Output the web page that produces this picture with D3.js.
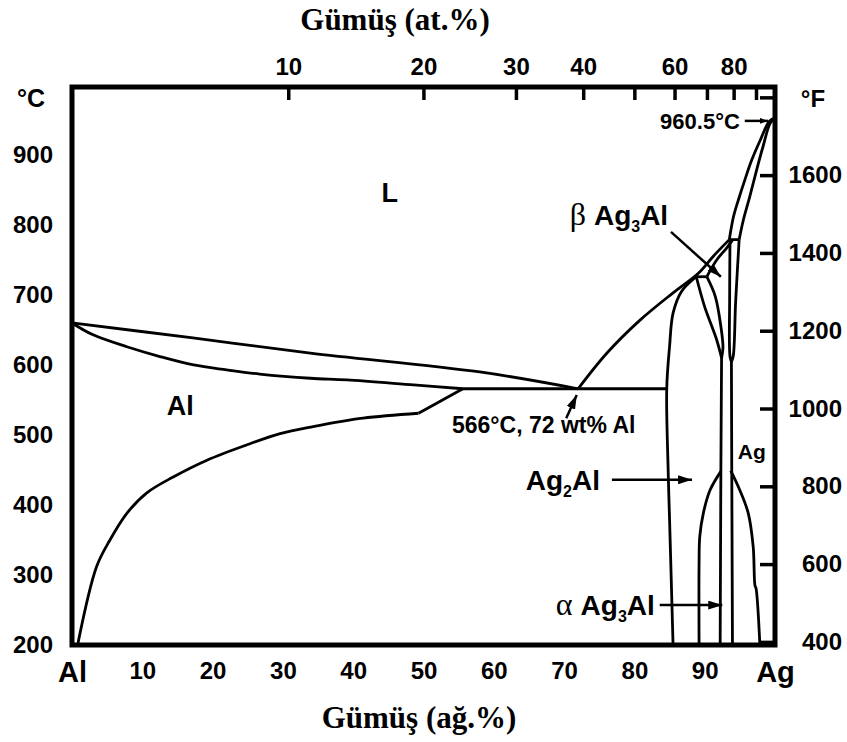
<!DOCTYPE html>
<html><head><meta charset="utf-8">
<script src="https://cdn.jsdelivr.net/npm/d3@7"></script>
<style>
body{margin:0;background:#fff;}
svg{display:block;}
</style></head><body>
<svg id="c" width="847" height="742" font-family="Liberation Sans, Arial, sans-serif" font-weight="bold"></svg>
<script>
// ---------- axis data ----------
const tempTicksC = [200,300,400,500,600,700,800,900];
const wtTicks = [0,10,20,30,40,50,60,70,80,90,100];
const wtTickLabels = ["Al","10","20","30","40","50","60","70","80","90","Ag"];
const atTicks = [10,20,30,40,50,60,70,80,90];
const atTickLabels = ["10","20","30","40","","60","","80",""];
const fTicks = [400,600,800,1000,1200,1400,1600,1800];
const fTickLabels = ["400","600","800","1000","1200","1400","1600",""];

// ---------- phase boundaries [wt% Ag, °C] ----------
const liquidusAl = [[0,660],[17.2,638.6],[33.9,617],[58,590],[72,566]];
const liquidusAgLow = [[72,566],[76.1,617],[80.8,664],[85.5,703],[89.1,731],[91.2,755],[93.5,779]];
const liquidusAgHigh = [[93.5,779],[94.1,812],[94.8,836],[95.7,864],[96.7,893],[97.9,921],[99.2,948],[100,953]];
const solidusAg = [[94.9,779],[95.5,807],[96.4,840],[97.4,879],[98.3,912],[99.3,945],[100,953]];
const solidusAl = [[0,660],[3.0,643],[7.8,626],[12.5,612],[17.3,600],[22,593],[26.7,587],[33.9,581],[39.1,578.6],[48.6,571.4],[55.6,566]];
const solvusAlUpper = [[55.6,566],[49.3,531]];
const solvusAlLower = [[49.3,531],[41.4,524],[34.3,512],[29.6,502],[24.9,486],[19.2,464],[14.4,440],[10.6,417],[7.8,388],[5.4,350],[3.5,312],[0.8,200]];
const eutectic = [[55.6,566],[84.6,566]];
const peritecticHigh = [[93.5,779],[94.9,779]];
const peritecticLow = [[88.8,726],[90.3,726]];
const betaSolidus = [[90.3,726],[91.7,750],[93.2,768],[94.0,779]];
const zetaLeft = [[88.8,726],[86.7,705],[85.5,674],[85.0,626],[84.6,566],[84.8,450],[85.0,380],[85.5,200]];
const vLeft = [[88.8,726],[90.0,683],[91.7,636],[92.4,610]];
const vRight = [[90.3,726],[91.5,698],[92.3,655],[92.6,625],[92.4,610]];
const betaAgWedge = [[93.6,779],[93.55,700],[93.6,612],[93.8,605],[94.05,612],[94.4,690],[94.9,779]];
const lineA = [[92.4,610],[92.3,450],[92.2,200]];
const lineB = [[93.8,605],[93.85,450],[93.95,200]];
const muLeft = [[92.3,448],[90.75,421],[89.8,388],[89.3,355],[89.2,317],[89.2,200]];
const muRight = [[93.7,449],[95.0,421],[96.2,388],[96.9,340],[97.15,285],[97.3,281],[97.85,200]];

const smoothCurves = [liquidusAl, liquidusAgLow, liquidusAgHigh, solidusAg, solidusAl, solvusAlLower, zetaLeft, vLeft, vRight, betaAgWedge, muLeft, muRight, betaSolidus];
const straightCurves = [solvusAlUpper, eutectic, peritecticHigh, peritecticLow, lineA, lineB];

// ---------- scales ----------
const svg = d3.select("#c");
const x = d3.scaleLinear().domain([0,100]).range([72,775]);
const y = d3.scaleLinear().domain([200,997]).range([645,87]);
const cToF = c => c*9/5+32;
const yF = d3.scaleLinear().domain([cToF(200),cToF(997)]).range([645,87]);
const M_AG = 107.87, M_AL = 26.98;
const atToWt = a => 100*a*M_AG/(a*M_AG+(100-a)*M_AL);

// defs
const defs = svg.append("defs");
defs.append("marker").attr("id","ah").attr("viewBox","0 0 10 10").attr("refX",10).attr("refY",5)
  .attr("markerUnits","userSpaceOnUse").attr("markerWidth",14).attr("markerHeight",9)
  .attr("orient","auto").attr("preserveAspectRatio","none")
  .append("path").attr("d","M0,0L10,5L0,10Z").attr("fill","#000");
defs.append("marker").attr("id","ahs").attr("viewBox","0 0 10 10").attr("refX",10).attr("refY",5)
  .attr("markerUnits","userSpaceOnUse").attr("markerWidth",8).attr("markerHeight",6)
  .attr("orient","auto").attr("preserveAspectRatio","none")
  .append("path").attr("d","M0,0L10,5L0,10Z").attr("fill","#000");

// ---------- curves ----------
const lineSmooth = d3.line().x(d=>x(d[0])).y(d=>y(d[1])).curve(d3.curveCatmullRom.alpha(0.5));
const lineStraight = d3.line().x(d=>x(d[0])).y(d=>y(d[1]));
const gCurves = svg.append("g");
smoothCurves.forEach(c => gCurves.append("path").attr("d",lineSmooth(c)).attr("fill","none").attr("stroke","#000").attr("stroke-width",2.8).attr("stroke-linejoin","round"));
straightCurves.forEach(c => gCurves.append("path").attr("d",lineStraight(c)).attr("fill","none").attr("stroke","#000").attr("stroke-width",2.8));

// ---------- frame ----------
svg.append("rect").attr("x",x(0)).attr("y",y(997)).attr("width",x(100)-x(0)).attr("height",y(200)-y(997))
  .attr("fill","none").attr("stroke","#000").attr("stroke-width",5);

// ---------- axes ----------
function styleAxisText(sel){ sel.attr("font-size",24).attr("font-family","Liberation Sans, Arial, sans-serif").attr("font-weight","bold").attr("fill","#000"); }
const axLeft = svg.append("g").attr("transform",`translate(${x(0)},0)`)
  .call(d3.axisLeft(y).tickValues(tempTicksC).tickSize(0).tickPadding(19));
axLeft.select(".domain").remove();
styleAxisText(axLeft.selectAll("text"));

const axBottom = svg.append("g").attr("transform",`translate(0,${y(200)})`)
  .call(d3.axisBottom(x).tickValues(wtTicks).tickSize(0).tickPadding(17).tickFormat((d,i)=>wtTickLabels[i]));
axBottom.select(".domain").remove();
styleAxisText(axBottom.selectAll("text"));
axBottom.selectAll("text").filter((d)=>d===0||d===100).attr("font-size",29).attr("y",16);

const axTop = svg.append("g").attr("transform",`translate(0,${y(997)})`)
  .call(d3.axisTop(x).tickValues(atTicks.map(atToWt)).tickSize(-13).tickPadding(12).tickFormat((d,i)=>atTickLabels[i]));
axTop.select(".domain").remove();
axTop.selectAll("line").attr("stroke","#000").attr("stroke-width",3.5);
styleAxisText(axTop.selectAll("text"));

const axRight = svg.append("g").attr("transform",`translate(${x(100)},0)`)
  .call(d3.axisRight(yF).tickValues(fTicks).tickSize(-15).tickPadding(10).tickFormat((d,i)=>fTickLabels[i]));
axRight.select(".domain").remove();
axRight.selectAll("line").attr("stroke","#000").attr("stroke-width",3.5);
styleAxisText(axRight.selectAll("text"));
axRight.selectAll("text").attr("text-anchor","end").attr("x",67);

// unit labels
svg.append("text").attr("x",31).attr("y",107).attr("text-anchor","middle").attr("font-size",25).text("°C");
svg.append("text").attr("x",813).attr("y",107).attr("text-anchor","middle").attr("font-size",24).text("°F");

// titles
svg.append("text").attr("x",395).attr("y",30).attr("text-anchor","middle")
  .attr("font-family","Liberation Serif, Times New Roman, serif").attr("font-size",31).text("Gümüş (at.%)");
svg.append("text").attr("x",419).attr("y",728).attr("text-anchor","middle")
  .attr("font-family","Liberation Serif, Times New Roman, serif").attr("font-size",31).text("Gümüş (ağ.%)");

// ---------- annotations ----------
const base = (T,fs)=> y(T)+0.36*fs;
svg.append("text").attr("x",x(45.2)).attr("y",base(846,27)).attr("text-anchor","middle").attr("font-size",27).text("L");
svg.append("text").attr("x",x(15.4)).attr("y",base(543,27)).attr("text-anchor","middle").attr("font-size",27).text("Al");
svg.append("text").attr("x",x(96.7)).attr("y",base(476,21)).attr("text-anchor","middle").attr("font-size",21).text("Ag");

function arrow(a,b,mk){
  svg.append("line").attr("x1",x(a[0])).attr("y1",y(a[1])).attr("x2",x(b[0])).attr("y2",y(b[1]))
    .attr("stroke","#000").attr("stroke-width",2.5).attr("marker-end",`url(#${mk||"ah"})`);
}
function phaseLabel(txt,sub,rest,xEnd,T,greek){
  const t = svg.append("text").attr("x",x(xEnd)).attr("y",base(T,28)).attr("text-anchor","end").attr("font-size",28);
  if(greek){ t.append("tspan").attr("font-family","Liberation Serif, Times New Roman, serif").attr("font-weight","normal").attr("font-size",32).text(greek+" "); }
  t.append("tspan").text(txt);
  t.append("tspan").attr("font-size",16).attr("dy",7).text(sub);
  t.append("tspan").attr("dy",-7).text(rest);
}
phaseLabel("Ag","2","Al",75.1,436);
arrow([76.8,436],[88.2,436]);
phaseLabel("Ag","3","Al",82.9,257,"α");
arrow([83.6,257],[92.5,257]);
phaseLabel("Ag","3","Al",84.8,814,"β");
arrow([85.2,790],[92.3,726]);

svg.append("text").attr("x",x(54.05)).attr("y",base(514,23)).attr("font-size",23).text("566°C, 72 wt% Al");
arrow([70.3,524],[71.8,557]);

svg.append("text").attr("x",x(95.0)).attr("y",base(948.6,22)).attr("text-anchor","end").attr("font-size",22).text("960.5°C");
arrow([95.7,948.6],[99.0,948.6],"ahs");
</script></body></html>
